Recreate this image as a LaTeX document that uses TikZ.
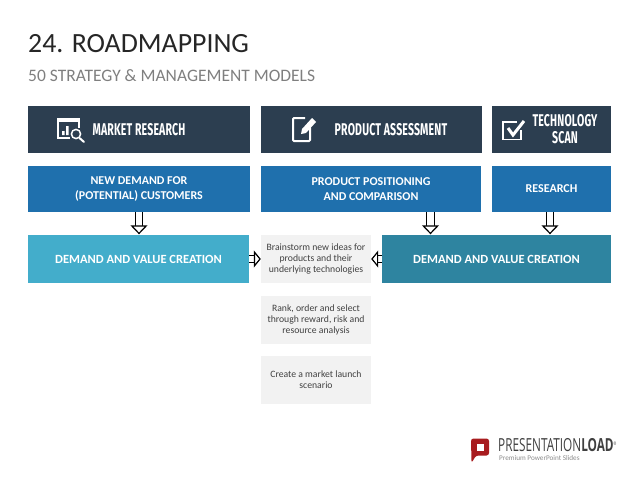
\documentclass[tikz,border=0pt]{standalone}
\usepackage{fontspec}
\usepackage{xcolor}
\usetikzlibrary{arrows.meta}
\setmainfont{Carlito}
\newfontfamily\headfont[FakeStretch=0.62,LetterSpace=1]{Fira Sans}
\newfontfamily\logofont[FakeStretch=0.655]{Open Sans}
\definecolor{headcol}{HTML}{2C3E50}
\definecolor{bluecol}{HTML}{1F70AD}
\definecolor{lightcol}{HTML}{43ADCB}
\definecolor{tealcol}{HTML}{2E84A0}
\definecolor{greycol}{HTML}{F2F2F2}
\definecolor{titlecol}{HTML}{262626}
\definecolor{subcol}{HTML}{7F7F7F}
\definecolor{logored}{HTML}{A81C1F}
\tikzset{
  box/.style={inner sep=0pt,align=center,text=white},
  headbox/.style={box,fill=headcol},
  headtext/.style={box,anchor=center,font=\headfont\bfseries\fontsize{17}{17}\selectfont},
  bluebox/.style={box,fill=bluecol,font=\bfseries\fontsize{12}{14.5}\selectfont},
  demandbox/.style={box,font=\bfseries\fontsize{12.5}{15}\selectfont},
  notebox/.style={inner sep=0pt,align=center,fill=greycol,text=black!75,minimum width=110pt,minimum height=48pt,font=\fontsize{9.7}{11.2}\selectfont},
  blockarrow/.style={line width=1.1pt,draw=black,double=white,double distance=6.2pt,-{Triangle[open,fill=white,length=9pt,width=17pt,line width=1.2pt]},shorten >=0.5pt},
  sidearrow/.style={line width=1.1pt,draw=black,double=white,double distance=6.2pt,-{Triangle[open,fill=white,length=7pt,width=17pt,line width=1.2pt]},shorten >=0pt},
  icon/.style={draw=white,line width=1.6pt}
}
\begin{document}
\begin{tikzpicture}[x=1pt,y=-1pt]
\useasboundingbox (0,0) rectangle (638,479);
\node (title) [anchor=west,inner sep=0pt,text=titlecol,font=\fontsize{27.8}{30}\selectfont] at (28,44) {24. ROADMAPPING};
\node (subtitle) [anchor=west,inner sep=0pt,text=subcol,font=\fontsize{17.5}{20}\selectfont] at (28,76) {50 STRATEGY \& MANAGEMENT MODELS};
% top row
\node (market) [headbox,minimum width=222pt,minimum height=47pt] at (139,129.5) {};
\node (product) [headbox,minimum width=221pt,minimum height=47pt] at (371.5,129.5) {};
\node (techno) [headbox,minimum width=119pt,minimum height=47pt] at (551.5,129.5) {};
\node (markettext) [headtext] at (139,129.5) {MARKET RESEARCH};
\node (producttext) [headtext] at (391,129.5) {PRODUCT ASSESSMENT};
\node (technotext) [headtext] at (565,129.5) {TECHNOLOGY\\SCAN};
% second row
\node (demandnew) [bluebox,minimum width=222pt,minimum height=46pt] at (139,189) {NEW DEMAND FOR\\(POTENTIAL) CUSTOMERS};
\node (position) [bluebox,minimum width=220pt,minimum height=46pt] at (371,189) {PRODUCT POSITIONING\\AND COMPARISON};
\node (research) [bluebox,minimum width=119pt,minimum height=46pt] at (551.5,189) {RESEARCH};
% third row
\node (valueleft) [demandbox,fill=lightcol,minimum width=221pt,minimum height=48pt] at (138.5,259) {DEMAND AND VALUE CREATION};
\node (valueright) [demandbox,fill=tealcol,minimum width=229pt,minimum height=48pt] at (496.5,259) {DEMAND AND VALUE CREATION};
\node (brainstorm) [notebox] at (316,259) {Brainstorm new ideas for\\products and their\\underlying technologies};
\node (rank) [notebox] at (316,320) {Rank, order and select\\through reward, risk and\\resource analysis};
\node (launch) [notebox] at (316,380) {Create a market launch\\scenario};
% arrows
\draw [blockarrow] (demandnew.south) -- (valueleft.north -| demandnew.south);
\draw [blockarrow] ([xshift=59.5pt]position.south) -- ([xshift=59.5pt]position.south |- valueright.north);
\draw [blockarrow] ([xshift=-1.5pt]research.south) -- ([xshift=-1.5pt]research.south |- valueright.north);
\draw [sidearrow] (valueleft.east) -- (brainstorm.west);
\draw [sidearrow] (valueright.west) -- (brainstorm.east);
% market icon
\draw [icon] (79,128) -- (79,119) -- (58,119) -- (58,138) -- (70,138);
\fill [white] (58,118) rectangle (80,122);
\fill [white] (62,131) rectangle (64.5,135) (66,126) rectangle (68.5,135);
\draw [icon,line width=1.5pt] (76,134) circle (4.6);
\draw [icon,line width=2pt,line cap=round] (79.5,138) -- (84,142);
% pencil icon
\draw [icon,line width=2pt,rounded corners=1pt] (310,128) -- (310,141) -- (293,141) -- (293,118) -- (305,118);
\fill [white] (301,134) -- (302,129) -- (312,118) -- (316,122) -- (306,133) -- cycle;
% check icon
\draw [icon] (521,130) -- (521,139.5) -- (503,139.5) -- (503,122) -- (517,122);
\draw [white,line width=3pt] (508,128) -- (513,135) -- (524,121);
% logo
\node (logoname) [anchor=west,inner sep=0pt,text=black!75,font=\logofont\fontsize{18}{19}\selectfont] at (498,445.5) {PRESENTATION\textbf{LOAD}\raisebox{6pt}{\fontsize{5}{5}\selectfont®}};
\node (logosub) [anchor=west,inner sep=0pt,text=black!45,font=\fontsize{7.2}{9}\selectfont] at (499,458.5) {Premium PowerPoint Slides};
\fill [logored,rounded corners=2.5pt] (471,438.5) -- (489,438.5) -- (489,455.5) -- (476,455.5) -- (471.5,463) -- cycle;
\fill [white] (477,443.5) rectangle (484,450.5);
\end{tikzpicture}
\end{document}
